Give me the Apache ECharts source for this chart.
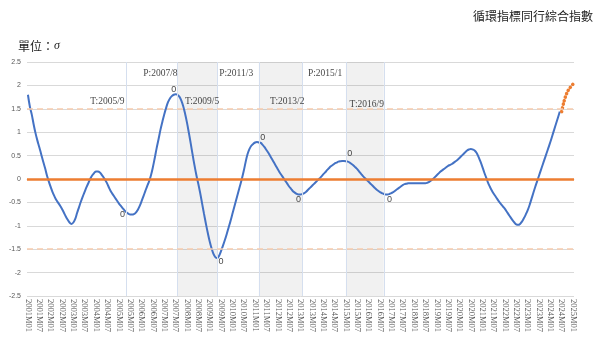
<!DOCTYPE html>
<html><head><meta charset="utf-8">
<script src="https://cdn.jsdelivr.net/npm/echarts@6/dist/echarts.min.js"></script>
<style>html,body{margin:0;padding:0;background:#fff}#c{width:605px;height:342px}</style>
</head><body><div id="c"></div>
<script>
// categories: monthly 2001M01 .. 2025M01
const categories = [];
for (let y = 2001; y <= 2025; y++) {
  for (let mo = 1; mo <= 12; mo++) {
    if (y === 2025 && mo > 1) break;
    categories.push(y + 'M' + (mo < 10 ? '0' + mo : mo));
  }
}
// coincident index (σ), 2001M01 .. 2024M07
const coincident = [
 1.80,1.55,1.38,1.17,0.98,0.82,0.68,0.53,0.38,0.24,0.08,-0.05,
 -0.17,-0.28,-0.37,-0.45,-0.51,-0.57,-0.64,-0.72,-0.80,-0.87,-0.93,-0.96,
 -0.93,-0.85,-0.72,-0.60,-0.48,-0.37,-0.27,-0.17,-0.08,0.01,0.08,0.13,
 0.16,0.16,0.14,0.09,0.03,-0.03,-0.11,-0.20,-0.28,-0.34,-0.40,-0.46,
 -0.52,-0.57,-0.62,-0.67,-0.71,-0.74,-0.76,-0.76,-0.75,-0.72,-0.66,-0.58,
 -0.48,-0.37,-0.26,-0.15,-0.05,0.08,0.25,0.45,0.66,0.85,1.05,1.22,
 1.38,1.52,1.64,1.72,1.77,1.80,1.81,1.80,1.76,1.68,1.56,1.40,
 1.21,0.99,0.76,0.52,0.29,0.08,-0.10,-0.30,-0.52,-0.74,-0.95,-1.15,
 -1.33,-1.48,-1.60,-1.67,-1.69,-1.64,-1.54,-1.43,-1.31,-1.18,-1.04,-0.90,
 -0.75,-0.60,-0.45,-0.30,-0.15,0.00,0.17,0.36,0.53,0.64,0.71,0.75,
 0.78,0.79,0.78,0.77,0.73,0.68,0.62,0.56,0.49,0.42,0.35,0.28,
 0.21,0.14,0.08,0.02,-0.04,-0.10,-0.16,-0.21,-0.26,-0.29,-0.32,-0.33,
 -0.33,-0.32,-0.30,-0.27,-0.23,-0.19,-0.15,-0.11,-0.07,-0.03,0.01,0.05,
 0.10,0.14,0.19,0.23,0.27,0.30,0.33,0.35,0.37,0.38,0.385,0.385,
 0.38,0.37,0.35,0.32,0.29,0.25,0.21,0.16,0.11,0.06,0.02,-0.02,
 -0.06,-0.10,-0.14,-0.18,-0.22,-0.25,-0.28,-0.30,-0.32,-0.33,-0.33,-0.32,
 -0.30,-0.28,-0.25,-0.22,-0.19,-0.16,-0.13,-0.11,-0.10,-0.09,-0.09,-0.09,
 -0.09,-0.09,-0.09,-0.09,-0.09,-0.09,-0.09,-0.08,-0.06,-0.03,0.00,0.04,
 0.08,0.12,0.16,0.19,0.22,0.25,0.28,0.30,0.32,0.35,0.38,0.41,
 0.45,0.49,0.53,0.57,0.61,0.63,0.64,0.63,0.61,0.56,0.48,0.38,
 0.27,0.15,0.04,-0.07,-0.16,-0.24,-0.31,-0.37,-0.43,-0.49,-0.54,-0.59,
 -0.64,-0.70,-0.76,-0.82,-0.88,-0.93,-0.97,-0.98,-0.96,-0.91,-0.84,-0.76,
 -0.67,-0.56,-0.43,-0.30,-0.17,-0.05,0.07,0.19,0.31,0.43,0.55,0.67,
 0.79,0.92,1.05,1.18,1.31,1.44
];
// projected segment 2024M07 .. 2025M01
const projStart = '2024M07';
const projected = [1.44,1.62,1.76,1.86,1.93,1.98,2.03];
// turning-point markers
const vLineMonths = ['2005M05','2007M08','2009M05','2011M03','2013M02','2015M01','2016M09'];
const recessions = [['2007M08','2009M05'],['2011M03','2013M02'],['2015M01','2016M09']];
const turnTexts = ['T:2005/9','P:2007/8','T:2009/5','P:2011/3','T:2013/2','P:2015/1','T:2016/9'];
const turnTextMonths = ['2004M07','2006M11','2008M09','2010M03','2012M06','2014M02','2015M12'];
const turnTextValues = [1.65,2.26,1.65,2.26,1.65,2.26,1.60];
const zeroLabelMonths = ['2005M03','2007M06','2009M07','2011M05','2012M12','2015M03','2016M12'];
const zeroLabelValues = [-0.76,1.91,-1.76,0.89,-0.44,0.55,-0.44];
const zeroLabelText = '0';
const yTicks = {min:-2.5, max:2.5, interval:0.5};
const bandLevel = 1.5;

const projData = categories.map(() => null);
const ps = categories.indexOf(projStart);
projected.forEach((v, i) => { projData[ps + i] = v; });

const chart = echarts.init(document.getElementById('c'), null, {renderer:'canvas'});
chart.setOption({
  animation: false,
  backgroundColor: '#fff',
  title: [
    {text:'循環指標同行綜合指數', right:7, top:5,
     textStyle:{fontSize:12, fontWeight:'normal', color:'#222', fontFamily:'Noto Sans CJK TC'}},
    {text:'單位：{i|σ}', left:13, top:35,
     textStyle:{fontSize:12, fontWeight:'normal', color:'#222', fontFamily:'Noto Sans CJK TC',
       rich:{i:{fontSize:12, fontStyle:'italic', fontFamily:'Liberation Serif', color:'#222'}}}}
  ],
  grid: {left:27, right:31, top:62, bottom:46, containLabel:false},
  xAxis: {
    type:'category', data:categories, boundaryGap:true,
    axisLine:{show:true, lineStyle:{color:'#D9D9D9'}},
    axisTick:{show:false},
    axisLabel:{interval:5, rotate:-90, fontSize:8.5, color:'#595959', fontFamily:'Liberation Serif', margin:3},
    splitLine:{show:false}
  },
  yAxis: {
    type:'value', min:yTicks.min, max:yTicks.max, interval:yTicks.interval,
    axisLine:{show:false}, axisTick:{show:false},
    axisLabel:{fontSize:7, color:'#595959', fontFamily:'Liberation Sans', margin:6},
    splitLine:{lineStyle:{color:'#D9D9D9', width:1}}
  },
  series: [
    {
      name:'ref', type:'line', data:categories.map(() => null), z:1, silent:true,
      markArea:{silent:true, itemStyle:{color:'rgba(0,0,0,0.055)'},
        data: recessions.map(r => [{xAxis:r[0]}, {xAxis:r[1]}])},
      markLine:{silent:true, symbol:'none', label:{show:false},
        data: vLineMonths.map(m => ({xAxis:m, lineStyle:{color:'#D5DFEF', width:1, type:'solid'}}))
          .concat([
            {yAxis:bandLevel, lineStyle:{color:'#F8CBAD', width:1.5, type:[6,4]}},
            {yAxis:-bandLevel, lineStyle:{color:'#F8CBAD', width:1.5, type:[6,4]}},
            {yAxis:0, lineStyle:{color:'#ED7D31', width:2.6, type:'solid'}}
          ])}
    },
    {
      name:'coincident', type:'line', data:coincident, z:4, smooth:0.4,
      showSymbol:false, symbol:'none',
      lineStyle:{color:'#4472C4', width:2}
    },
    {
      name:'projected', type:'line', data:projData, z:4, smooth:0.3,
      showSymbol:false, symbol:'none',
      lineStyle:{color:'#ED7D31', width:3.5, type:[0.1,3.6], cap:'round'}
    },
    {
      name:'turnText', type:'scatter', symbolSize:0, z:5, silent:true,
      data: turnTextMonths.map((m, i) => ({value:[m, turnTextValues[i]], label:{formatter:turnTexts[i]}})),
      label:{show:true, position:'inside', fontSize:9.5, color:'#111', fontFamily:'Liberation Serif'}
    },
    {
      name:'zeroLabels', type:'scatter', symbolSize:0, z:5, silent:true,
      data: zeroLabelMonths.map((m, i) => [m, zeroLabelValues[i]]),
      label:{show:true, position:'inside', formatter:zeroLabelText, fontSize:9, color:'#111', fontFamily:'Liberation Sans'}
    }
  ]
});
</script></body></html>
